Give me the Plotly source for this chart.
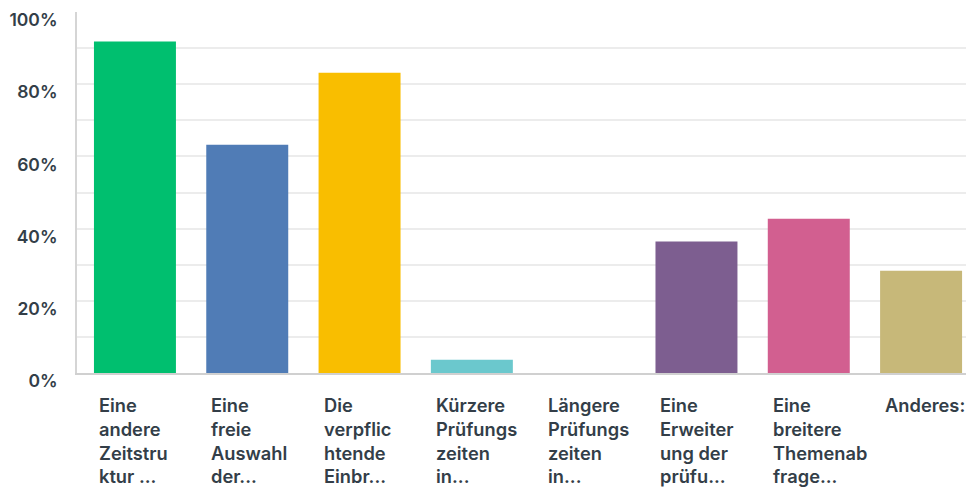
import plotly.graph_objects as go

categories = [
    "Eine<br>andere<br>Zeitstru<br>ktur ...",
    "Eine<br>freie<br>Auswahl<br>der...",
    "Die<br>verpflic<br>htende<br>Einbr...",
    "Kürzere<br>Prüfungs<br>zeiten<br>in...",
    "Längere<br>Prüfungs<br>zeiten<br>in...",
    "Eine<br>Erweiter<br>ung der<br>prüfu...",
    "Eine<br>breitere<br>Themenab<br>frage...",
    "Anderes:",
]
percent = [91.8, 63.2, 83.2, 3.7, 0.0, 36.4, 42.7, 28.3]
colors = ["#00bf6f", "#507cb6", "#f9be00", "#6bc8cd", "#ff8b4f", "#7d5e90", "#d25f90", "#c7b879"]
y_ticks = [0, 20, 40, 60, 80, 100]
y_labels = ["0%", "20%", "40%", "60%", "80%", "100%"]

text_color = "#333e48"
fnt = dict(family="Inter", size=17.5, color=text_color, weight=600)
label_fnt = dict(family="Inter", size=18.3, color=text_color, weight=600)

idx = list(range(len(categories)))
fig = go.Figure(go.Bar(x=idx, y=percent, marker_color=colors, marker_line_width=0,
                       hoverinfo="skip"))

# category labels, left aligned under each bar
for i, lab in zip(idx, categories):
    fig.add_annotation(x=i, y=0, xref="x", yref="paper", text=lab, showarrow=False,
                       xanchor="left", yanchor="top", align="left",
                       xshift=-38, yshift=-19, font=label_fnt)

fig.update_layout(
    width=966, height=491,
    margin=dict(l=77, r=0, t=12, b=118),
    paper_bgcolor="white", plot_bgcolor="white",
    bargap=0.27, showlegend=False,
    xaxis=dict(range=[-0.516, 7.4], showticklabels=False, showgrid=False,
               showline=True, linecolor="#d0d0d0", linewidth=2, zeroline=False),
    yaxis=dict(range=[0, 100], tickvals=y_ticks, ticktext=y_labels,
               tickfont=fnt, ticklabelshift=8, ticklabelstandoff=14,
               showgrid=True, gridcolor="#ececec", gridwidth=2,
               minor=dict(dtick=10, showgrid=True, gridcolor="#ececec", gridwidth=2),
               showline=True, linecolor="#d5d5d5", linewidth=2, zeroline=False),
)

# drop the page margin so the fixed-size figure fits the window exactly
fig.write_html("out.html", config={"displayModeBar": False},
               post_script="document.body.style.margin='0';")
